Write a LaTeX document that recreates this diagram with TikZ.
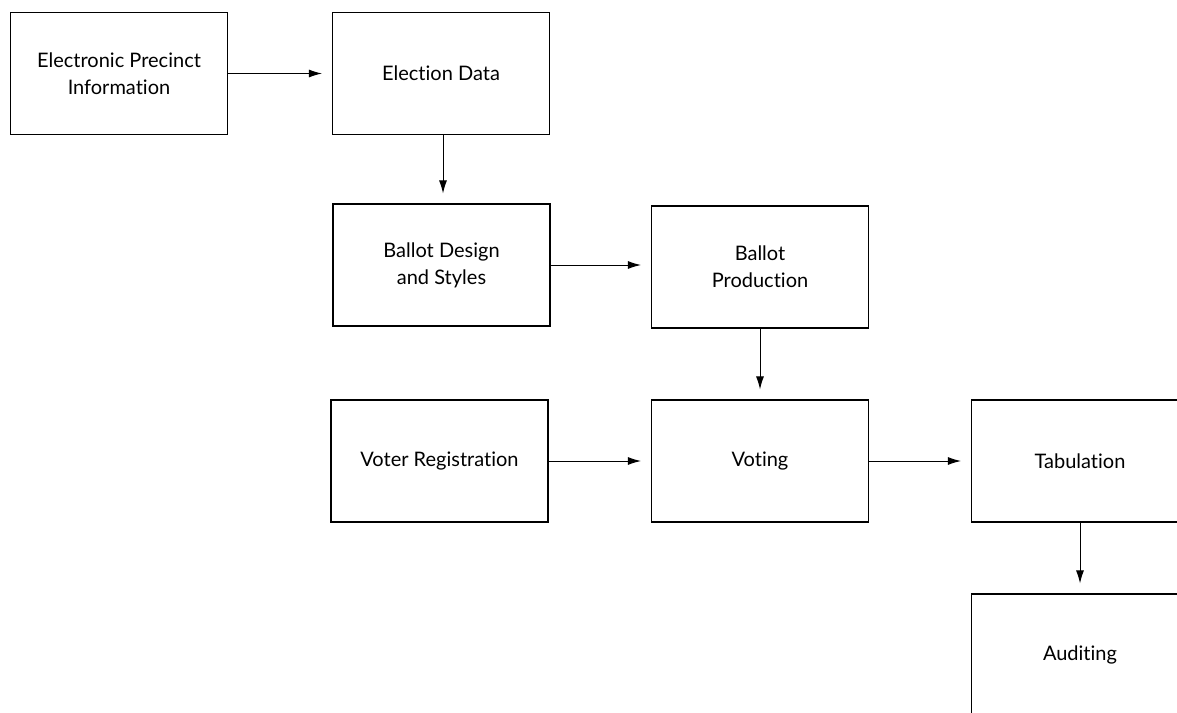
\documentclass[tikz,border=0pt]{standalone}
\usepackage{fontspec}
\setmainfont{Lato}[Ligatures={NoCommon}]
\usetikzlibrary{arrows.meta}
\begin{document}
\begin{tikzpicture}[x=1pt,y=1pt,
  box/.style={draw,line width=1.1pt,minimum width=217pt,minimum height=122pt,align=center,inner sep=0pt,
    font=\fontsize{20}{27}\selectfont},
  link/.style={line width=1pt,-{Latex[length=13pt,width=8pt]},shorten >=10pt}]
\useasboundingbox (0,0) rectangle (1177,-712);
\clip (0,0) rectangle (1177,-712);
\node[box] (epi) at (119,-73.5) {Electronic Precinct\\Information};
\node[box] (ed) at (441,-73.5) {Election Data};
\node[box] (bds) at (441.5,-265) {Ballot Design\\and Styles};
\node[box] (bp) at (760,-267) {Ballot\\Production};
\node[box] (vr) at (439.5,-461) {Voter Registration};
\node[box] (vo) at (760,-461) {Voting};
\node[box] (tab) at (1080,-461) {Tabulation};
\node[box] (aud) at (1080,-655) {Auditing};
\draw[link] (epi.east) -- (ed.west);
\draw[link] (ed.south -| 443,0) -- (bds.north -| 443,0);
\draw[link] (bds.east |- 0,-265) -- (bp.west |- 0,-265);
\draw[link] (bp.south) -- (vo.north);
\draw[link] (vr.east) -- (vo.west);
\draw[link] (vo.east) -- (tab.west);
\draw[link] (tab.south) -- (aud.north);
\end{tikzpicture}
\end{document}
